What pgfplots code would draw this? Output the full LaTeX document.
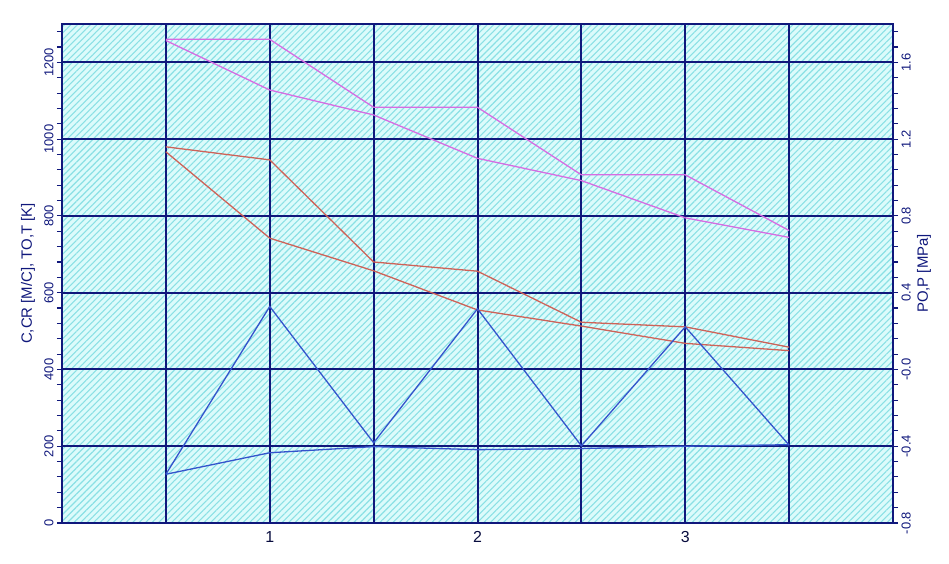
\documentclass[border=0pt]{standalone}
\usepackage{fontspec}
\setmainfont{Liberation Sans}
\usepackage{pgfplots}
\pgfplotsset{compat=1.18}
\usetikzlibrary{patterns.meta}

\definecolor{navy}{RGB}{16,24,124}
\definecolor{bgcyan}{RGB}{220,251,251}
\definecolor{hatchcyan}{RGB}{138,224,228}
\definecolor{lnmag}{RGB}{214,108,226}
\definecolor{lnred}{RGB}{206,98,88}
\definecolor{lnblue}{RGB}{52,84,204}

% stage quantities along the flow path
\pgfplotstableread{
x    C    CR   TO   T
0.5  127  127  980  967
1.0  564  183  946  742
1.5  209  199  680  657
2.0  558  191  656  555
2.5  201  194  523  513
3.0  511  200  511  468
3.5  203  204  458  449
}\velotemp

\pgfplotstableread{
x    PO     P
0.5  1.720  1.714
1.0  1.720  1.456
1.5  1.366  1.326
2.0  1.366  1.100
2.5  1.014  0.984
3.0  1.014  0.790
3.5  0.724  0.688
}\press

\pgfplotsset{
  common/.style={
    width=831bp, height=499bp, scale only axis,
    at={(0,0)}, anchor=south west,
    xmin=0, xmax=4,
    axis line style={navy, line width=2bp},
    tick align=outside,
    major tick length=5bp, minor tick length=5bp,
    every tick/.style={navy, line width=1.1bp},
    every minor tick/.style={navy, line width=1.1bp},
    yticklabel style={rotate=90, font=\fontsize{13}{14}\selectfont, text=navy},
  },
}

\begin{document}
\begin{tikzpicture}
\path[use as bounding box] (-62bp,-41bp) rectangle (887bp,523bp);

\begin{axis}[common,
  axis background/.style={fill=bgcyan,
    postaction={pattern={Lines[angle=45,distance=4.6bp,line width=1.1bp]}, pattern color=hatchcyan}},
  ymin=0, ymax=1300,
  xtick={0.5,1,1.5,2,2.5,3,3.5},
  xticklabels={,1,,2,,3,},
  xtick style={draw=none},
  xticklabel style={font=\fontsize{16}{17}\selectfont, text=navy!50!black},
  ytick={0,200,400,600,800,1000,1200},
  yticklabels={0,200,400,600,800,1000,1200},
  minor ytick={40,80,120,160,240,280,320,360,440,480,520,560,640,680,720,760,840,880,920,960,1040,1080,1120,1160,1240,1280},
  ytick pos=left,
  yticklabel style={anchor=south},
  grid=major,
  major grid style={navy, line width=2bp},
  ylabel={C,CR [M/C], TO,T [K]},
  every axis y label/.style={at={(axis description cs:0,0.5)}, xshift=-34bp,
    rotate=90, anchor=center, font=\fontsize{15}{16}\selectfont, text=navy},
]
\addplot[lnred, line width=1.3bp] table[x=x, y=TO] {\velotemp};
\addplot[lnred, line width=1.3bp] table[x=x, y=T] {\velotemp};
\addplot[lnblue, line width=1.3bp] table[x=x, y=CR] {\velotemp};
\addplot[lnblue, line width=1.3bp] table[x=x, y=C] {\velotemp};
\end{axis}

\begin{axis}[common,
  ymin=-0.8, ymax=1.8,
  hide x axis,
  ytick={-0.8,-0.4,0,0.4,0.8,1.2,1.6},
  yticklabels={-0.8,-0.4,-0.0,0.4,0.8,1.2,1.6},
  minor ytick={-0.72,-0.64,-0.56,-0.48,-0.32,-0.24,-0.16,-0.08,0.08,0.16,0.24,0.32,0.48,0.56,0.64,0.72,0.88,0.96,1.04,1.12,1.28,1.36,1.44,1.52,1.68,1.76},
  ytick pos=right, yticklabel pos=right,
  yticklabel style={anchor=north},
  ylabel={PO,P [MPa]},
  every axis y label/.style={at={(axis description cs:1,0.5)}, xshift=31bp,
    rotate=90, anchor=center, font=\fontsize{15}{16}\selectfont, text=navy},
]
\addplot[lnmag, line width=1.3bp] table[x=x, y=PO] {\press};
\addplot[lnmag, line width=1.3bp] table[x=x, y=P] {\press};
\end{axis}
\end{tikzpicture}
\end{document}
